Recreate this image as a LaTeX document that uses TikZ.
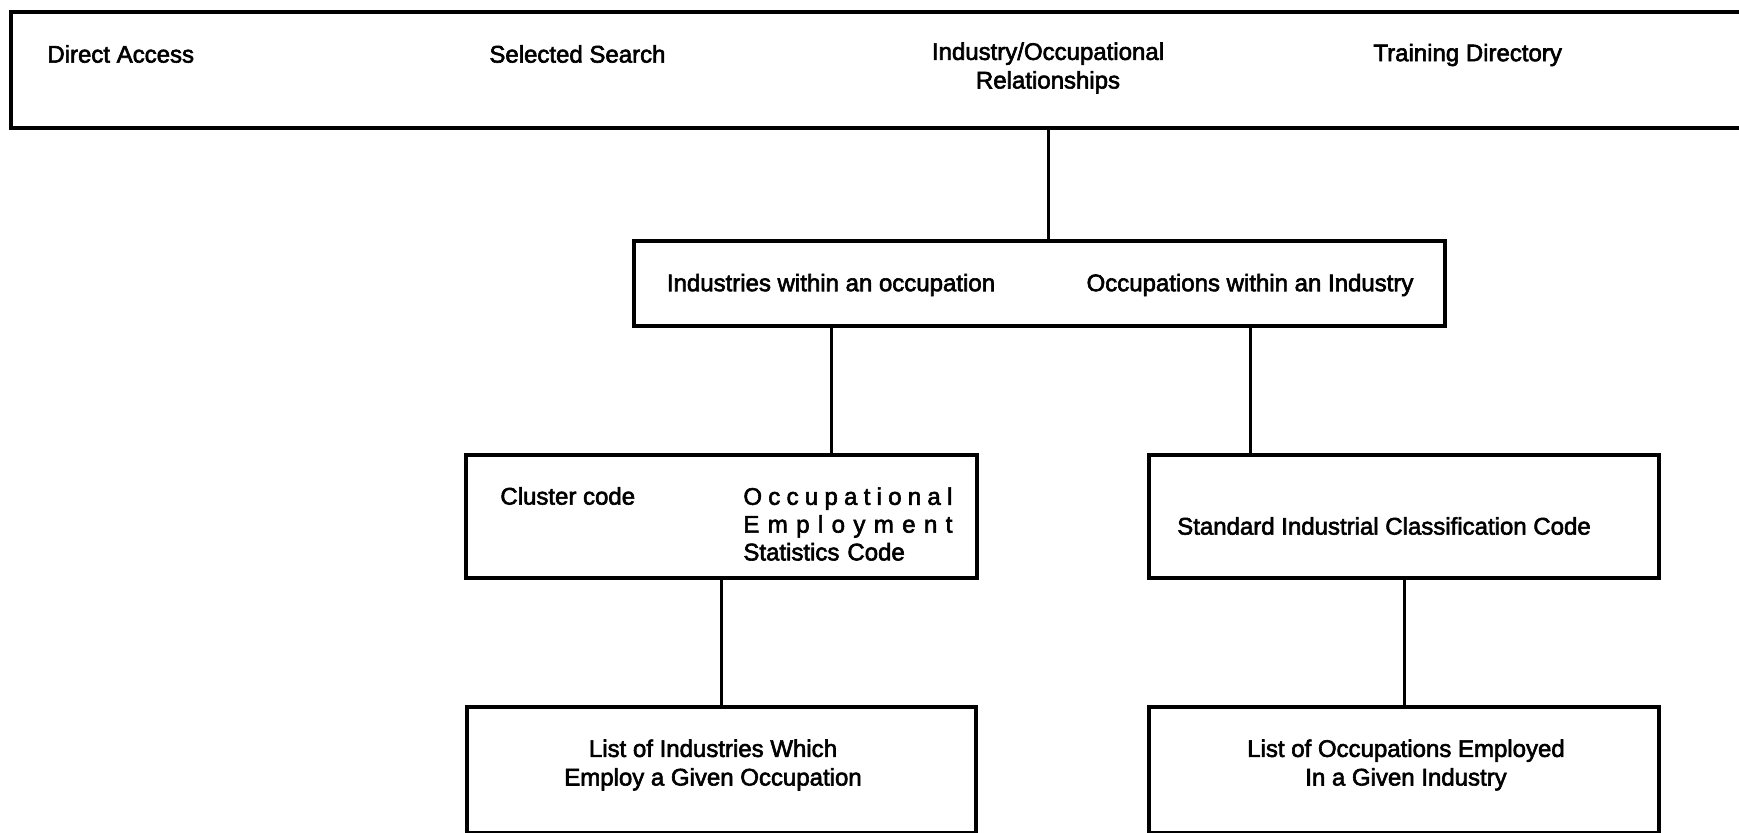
\documentclass[tikz,border=0pt]{standalone}
\usepackage{fontspec}
\setmainfont[FakeBold=2.5]{Liberation Sans}
% one unit of the drawing grid
\newdimen\pxu \pxu=0.5pt
\begin{document}
\begin{tikzpicture}[x=0.5pt,y=-0.5pt,
  box/.style={draw, line width=1.7pt, rectangle, inner sep=0pt, outer sep=0pt, anchor=north west},
  lbl/.style={inner sep=0pt, font=\fontsize{12}{14.3}\selectfont},
  link/.style={line width=1.5pt}]
\useasboundingbox (0,0) rectangle (1739,833);
\clip (0,0) rectangle (1739,833);

% menu bar
\node[box, minimum width=1769\pxu, minimum height=116\pxu] (menu) at (11,12) {};
\node[lbl, anchor=west] (direct) at (47,54) {Direct Access};
\node[lbl, anchor=west] (search) at (489,54) {Selected Search};
\node[lbl, align=center] (rel) at (1048,68) {Industry/Occupational\\Relationships};
\node[lbl, anchor=west] (train) at (1373,55) {Training Directory};

% relationship choices
\node[box, minimum width=811\pxu, minimum height=85\pxu] (mid) at (634,241) {};
\node[lbl] (ino) at (831,285) {Industries within an occupation};
\node[lbl] (oni) at (1250,285) {Occupations within an Industry};

% code boxes
\node[box, minimum width=511\pxu, minimum height=123\pxu] (clus) at (466,455) {};
\node[lbl, anchor=west] (cc) at (500,496) {Cluster code};
\node[lbl, anchor=north west, text width=104.5pt, align=left,
      font=\fontsize{12}{13.9}\selectfont] (oes) at (743,487)
  {\makebox[\linewidth][s]{O\hfill c\hfill c\hfill u\hfill p\hfill a\hfill t\hfill i\hfill o\hfill n\hfill a\hfill l}\\
   \makebox[\linewidth][s]{E\hfill m\hfill p\hfill l\hfill o\hfill y\hfill m\hfill e\hfill n\hfill t}\\
   Statistics Code};

\node[box, minimum width=510\pxu, minimum height=123\pxu] (sic) at (1149,455) {};
\node[lbl] (sict) at (1384,526) {Standard Industrial Classification Code};

% result lists
\node[box, minimum width=509\pxu, minimum height=126\pxu] (indlist) at (467,707) {};
\node[lbl, align=center] (indt) at (713,765) {List of Industries Which\\Employ a Given Occupation};
\node[box, minimum width=510\pxu, minimum height=126\pxu] (occlist) at (1149,707) {};
\node[lbl, align=center] (occt) at (1406,765) {List of Occupations Employed\\In a Given Industry};

% connectors
\draw[link] (menu.south -| rel) -- (mid.north -| rel);
\draw[link] (mid.south -| ino) -- (clus.north -| ino);
\draw[link] (mid.south -| oni) -- (sic.north -| oni);
\draw[link] (clus.south) -- (indlist.north);
\draw[link] (sic.south) -- (occlist.north);
\end{tikzpicture}
\end{document}
